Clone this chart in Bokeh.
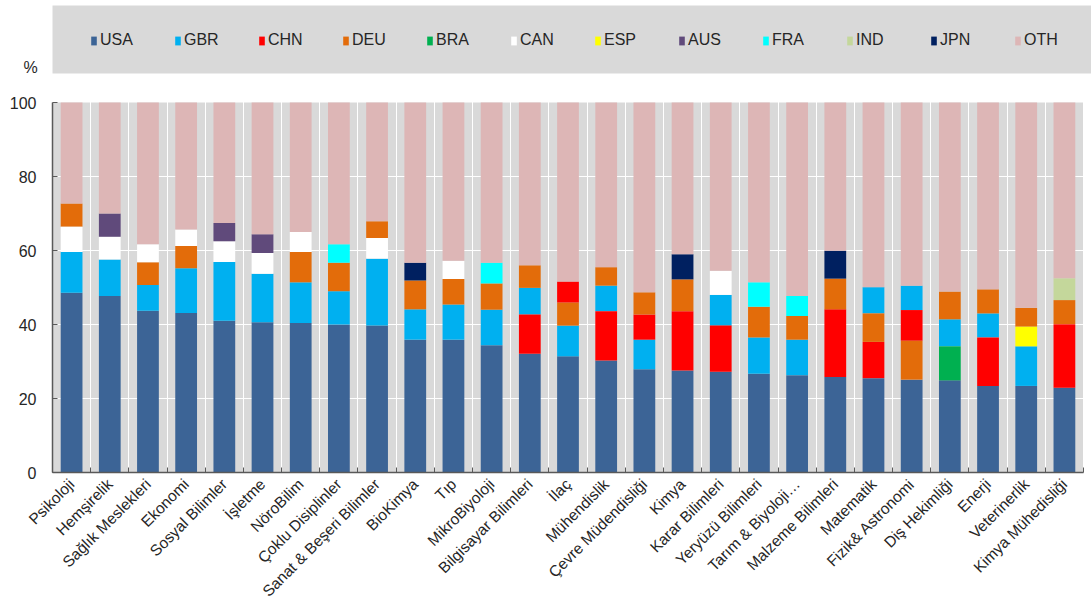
from bokeh.plotting import figure
from bokeh.models import (FixedTicker, Legend, LegendItem, Label, ColumnDataSource, Range1d,
                          BoxAnnotation)
from bokeh.embed import file_html
from bokeh.resources import INLINE
import math

categories = ["Psikoloji", "Hemşirelik", "Sağlık Meslekleri", "Ekonomi", "Sosyal Bilimler",
              "İşletme", "NöroBilim", "Çoklu Disiplinler", "Sanat & Beşeri Bilimler", "BioKimya",
              "Tıp", "MikroBiyoloji", "Bilgisayar Bilimleri", "İlaç", "Mühendislik",
              "Çevre Müdendisliği", "Kimya", "Karar Bilimleri", "Yeryüzü Bilimleri",
              "Tarım & Biyoloji…", "Malzeme Bilimleri", "Matematik", "Fizik& Astronomi",
              "Diş Hekimliği", "Enerji", "Veterinerlik", "Kimya Mühedisliği"]

countries = ["USA", "GBR", "CHN", "DEU", "BRA", "CAN", "ESP", "AUS", "FRA", "IND", "JPN", "OTH"]
colors = ["#3C6496", "#00B0F0", "#FF0000", "#E36C0A", "#00B050", "#FFFFFF",
          "#FFFF00", "#604A7B", "#00FFFF", "#C4D79B", "#002060", "#DDB6B6"]

USA = [48.6, 47.7, 43.7, 43.1, 41.0, 40.6, 40.4, 40.0, 39.7, 35.9, 35.9, 34.4, 32.1, 31.4,
       30.3, 27.9, 27.6, 27.2, 26.7, 26.3, 25.8, 25.5, 25.1, 24.9, 23.4, 23.4, 22.9]
GBR = [11.0, 9.9, 7.0, 12.1, 15.9, 13.1, 11.0, 9.0, 18.1, 8.2, 9.5, 9.6, 7.2, 8.3,
       6.9, 8.0, 0, 8.3, 9.8, 9.6, 0, 7.1, 6.6, 7.3, 6.5, 10.7, 0]
CHN = [0, 0, 0, 0, 0, 0, 0, 0, 0, 0, 0, 0, 10.6, 5.7,
       13.3, 6.8, 16.0, 12.5, 0, 0, 18.3, 9.8, 8.3, 0, 13.1, 0, 17.2]
DEU = [6.3, 0, 6.1, 6.0, 0, 0, 8.2, 7.7, 4.5, 7.8, 6.9, 7.1, 6.1, 6.2,
       5.0, 6.0, 8.6, 0, 8.3, 6.4, 8.3, 7.7, 10.5, 7.5, 6.5, 5.1, 6.5]
BRA = [0, 0, 0, 0, 0, 0, 0, 0, 0, 0, 0, 0, 0, 0,
       0, 0, 0, 0, 0, 0, 0, 0, 0, 9.2, 0, 0, 0]
CAN = [6.8, 6.1, 4.9, 4.5, 5.6, 5.6, 5.4, 0, 5.6, 0, 4.9, 0, 0, 0,
       0, 0, 0, 6.5, 0, 0, 0, 0, 0, 0, 0, 0, 0]
ESP = [0, 0, 0, 0, 0, 0, 0, 0, 0, 0, 0, 0, 0, 0,
       0, 0, 0, 0, 0, 0, 0, 0, 0, 0, 0, 5.3, 0]
AUS = [0, 6.3, 0, 0, 4.9, 5.1, 0, 0, 0, 0, 0, 0, 0, 0,
       0, 0, 0, 0, 0, 0, 0, 0, 0, 0, 0, 0, 0]
FRA = [0, 0, 0, 0, 0, 0, 0, 5.0, 0, 0, 0, 5.6, 0, 0,
       0, 0, 0, 0, 6.6, 5.4, 0, 0, 0, 0, 0, 0, 0]
IND = [0, 0, 0, 0, 0, 0, 0, 0, 0, 0, 0, 0, 0, 0,
       0, 0, 0, 0, 0, 0, 0, 0, 0, 0, 0, 0, 5.9]
JPN = [0, 0, 0, 0, 0, 0, 0, 0, 0, 4.8, 0, 0, 0, 0,
       0, 0, 6.8, 0, 0, 0, 7.5, 0, 0, 0, 0, 0, 0]
OTH = [27.3, 30.0, 38.3, 34.3, 32.6, 35.6, 35.0, 38.3, 32.1, 43.3, 42.8, 43.3, 44.0, 48.4,
       44.5, 51.3, 41.0, 45.5, 48.6, 52.3, 40.1, 49.9, 49.5, 51.1, 50.5, 55.5, 47.5]

# segment order in each bar, bottom to top
stack_order = [
    "USA GBR CAN DEU OTH", "USA GBR CAN AUS OTH", "USA GBR DEU CAN OTH", "USA GBR DEU CAN OTH",
    "USA GBR CAN AUS OTH", "USA GBR CAN AUS OTH", "USA GBR DEU CAN OTH", "USA GBR DEU FRA OTH",
    "USA GBR CAN DEU OTH", "USA GBR DEU JPN OTH", "USA GBR DEU CAN OTH", "USA GBR DEU FRA OTH",
    "USA CHN GBR DEU OTH", "USA GBR DEU CHN OTH", "USA CHN GBR DEU OTH", "USA GBR CHN DEU OTH",
    "USA CHN DEU JPN OTH", "USA CHN GBR CAN OTH", "USA GBR DEU FRA OTH", "USA GBR DEU FRA OTH",
    "USA CHN DEU JPN OTH", "USA CHN DEU GBR OTH", "USA DEU CHN GBR OTH", "USA BRA GBR DEU OTH",
    "USA CHN GBR DEU OTH", "USA GBR ESP DEU OTH", "USA CHN DEU IND OTH",
]

y_ticks = [0, 20, 40, 60, 80, 100]
unit_label = "%"

values = {"USA": USA, "GBR": GBR, "CHN": CHN, "DEU": DEU, "BRA": BRA, "CAN": CAN,
          "ESP": ESP, "AUS": AUS, "FRA": FRA, "IND": IND, "JPN": JPN, "OTH": OTH}

n = len(categories)
centers = list(range(1, n + 1))
bounds = [i + 0.5 for i in range(0, n + 1)]

seg = {c: {"x": [], "bottom": [], "top": []} for c in countries}
for i, order in enumerate(stack_order):
    base = 0.0
    for c in order.split():
        v = values[c][i]
        if v > 0:
            seg[c]["x"].append(centers[i])
            seg[c]["bottom"].append(base)
            seg[c]["top"].append(base + v)
            base += v

FONT = "Liberation Sans"
AXIS_COLOR = "#595959"
TEXT_COLOR = "#262626"
PANEL = "#D9D9D9"

# layout geometry (pixels)
W, H = 1091, 603
FRAME_L, FRAME_R, FRAME_T, FRAME_B = 52, 1083, 102, 472
px_x = (FRAME_R - FRAME_L) / n          # pixels per category
px_y = (FRAME_B - FRAME_T) / 100.0      # pixels per percent

x_lo = 0.5 - FRAME_L / px_x
x_hi = n + 0.5 + (W - FRAME_R) / px_x
y_lo = -(H - FRAME_B) / px_y
y_hi = 100 + FRAME_T / px_y

p = figure(width=W, height=H, output_backend="svg", toolbar_location=None,
           x_range=Range1d(x_lo, x_hi), y_range=Range1d(y_lo, y_hi),
           min_border_left=0, min_border_right=0, min_border_top=0, min_border_bottom=0)
p.background_fill_color = "white"
p.border_fill_color = "white"
p.outline_line_color = None

# grey plotting area
p.add_layout(BoxAnnotation(left=0.5, right=n + 0.5, bottom=0, top=100,
                           fill_color=PANEL, fill_alpha=1.0, line_color=None, level="image"))

renderers = {}
for c, col in zip(countries, colors):
    src = ColumnDataSource(seg[c])
    r = p.vbar(x="x", bottom="bottom", top="top", width=0.57, source=src,
               fill_color=col, line_color=None)
    renderers[c] = r

p.xgrid.ticker = FixedTicker(ticks=bounds)
p.xgrid.grid_line_color = "white"
p.xgrid.grid_line_width = 1
p.ygrid.ticker = FixedTicker(ticks=y_ticks[1:-1])
p.ygrid.grid_line_color = "white"
p.ygrid.grid_line_width = 1

xa = p.xaxis[0]
xa.fixed_location = 0
xa.bounds = (0.5, n + 0.5)
xa.ticker = FixedTicker(ticks=centers, minor_ticks=bounds)
xa.major_label_overrides = {c: lab for c, lab in zip(centers, categories)}
xa.major_label_orientation = math.pi / 4
xa.major_tick_line_color = None
xa.minor_tick_in = 5
xa.minor_tick_out = 0
xa.minor_tick_line_color = AXIS_COLOR
xa.axis_line_color = AXIS_COLOR
xa.axis_line_width = 1.5
xa.major_label_text_font = FONT
xa.major_label_text_font_size = "15.5px"
xa.major_label_text_color = TEXT_COLOR
xa.major_label_standoff = 3

ya = p.yaxis[0]
ya.fixed_location = 0.5
ya.bounds = (0, 100)
ya.ticker = FixedTicker(ticks=y_ticks)
ya.major_tick_in = 5
ya.major_tick_out = 0
ya.major_tick_line_color = AXIS_COLOR
ya.minor_tick_line_color = None
ya.axis_line_color = AXIS_COLOR
ya.axis_line_width = 1.5
ya.major_label_text_font = FONT
ya.major_label_text_font_size = "16px"
ya.major_label_text_color = TEXT_COLOR
ya.major_label_standoff = 16

# legend panel (grey band above the plot)
p.add_layout(BoxAnnotation(left=0.5, right=x_hi, bottom=100 + (FRAME_T - 73) / px_y,
                           top=100 + (FRAME_T - 5) / px_y,
                           fill_color=PANEL, fill_alpha=1.0, line_color=None, level="underlay"))

items = [LegendItem(label=c, renderers=[renderers[c]]) for c in countries]
legend = Legend(items=items, orientation="horizontal", location=(90, H - 49),
                background_fill_alpha=0.0, border_line_color=None, padding=0, margin=0,
                spacing=38, label_width=36, label_height=18,
                glyph_width=7, glyph_height=11, label_standoff=3,
                label_text_font=FONT, label_text_font_size="16px",
                label_text_color=TEXT_COLOR)
p.add_layout(legend, "center")

pct = Label(x=0.5 - 22 / px_x, y=100 + 35 / px_y, text=unit_label, text_font=FONT,
            text_font_size="16px", text_color=TEXT_COLOR,
            text_align="center", text_baseline="middle")
p.add_layout(pct)

open("out.html", "w").write(file_html(p, INLINE))
